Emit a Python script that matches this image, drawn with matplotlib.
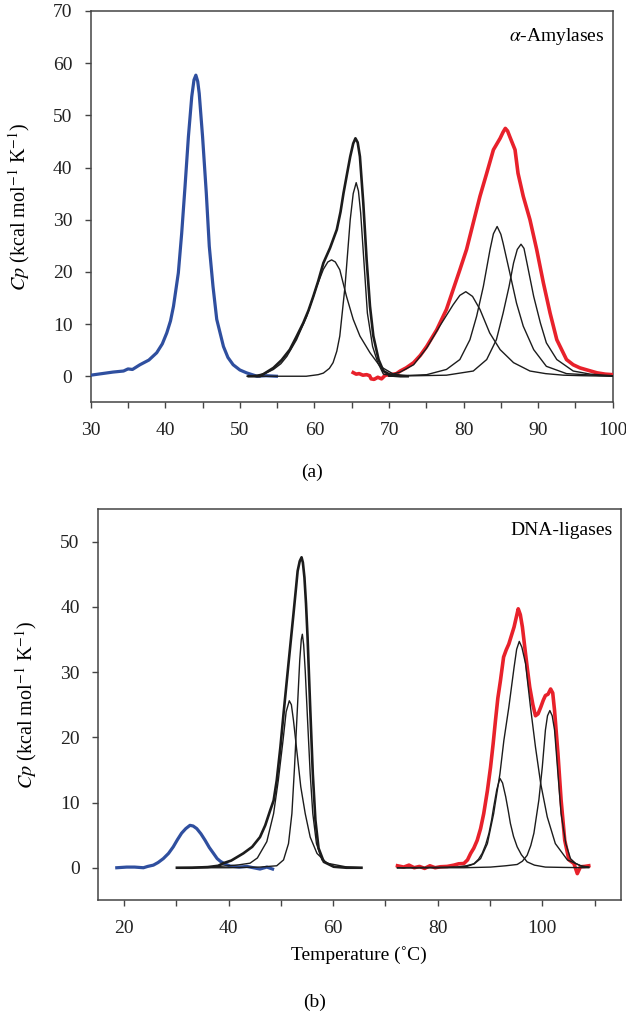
#!/usr/bin/env python3
# -*- coding: utf-8 -*-
"""
DSC traces (Cp vs temperature) for alpha-amylases (a) and DNA-ligases (b),
blue / black / red experimental curves with thin black deconvolution peaks.
Values read off the published figure by eye.
"""

import matplotlib
matplotlib.use('Agg')
import matplotlib.pyplot as plt
from matplotlib.ticker import MultipleLocator

#%% Panel (a) data - alpha-amylases
blue_a_T = [30.0, 31.5, 33.0, 34.4, 35.0, 35.6, 36.6, 37.8, 38.85, 39.6, 40.2, 40.7, 41.1, 41.75,
            42.2, 42.65, 43.1, 43.55, 43.85, 44.1, 44.35, 44.55, 45.0, 45.5, 45.9, 46.4, 46.9,
            47.8, 48.4, 49.1, 50.0, 50.9, 52.3, 53.5, 54.9]
blue_a_Cp = [0.2, 0.5, 0.8, 1.0, 1.4, 1.3, 2.2, 3.1, 4.5, 6.2, 8.3, 10.6, 13.4, 19.8,
             27.4, 36.4, 45.9, 53.6, 56.8, 57.7, 56.5, 54.2, 45.9, 35.1, 24.9, 17.2, 10.9,
             5.7, 3.6, 2.2, 1.2, 0.65, 0.0, 0.1, 0.0]

black_a_T = [51.2, 52.0, 52.7, 53.6, 54.5, 55.6, 56.7, 57.6, 58.5, 59.2, 59.85, 60.5, 61.2,
             62.1, 63.0, 63.5, 63.9, 64.4, 64.8, 65.2, 65.5, 65.8, 66.1, 66.55, 67.0, 67.45,
             67.9, 68.6, 69.25, 70.0, 70.6, 71.5, 72.5]
black_a_Cp = [0.0, 0.0, 0.0, 0.8, 1.6, 3.1, 5.1, 7.6, 10.2, 12.6, 15.3, 18.2, 21.7,
              24.6, 28.1, 31.5, 35.1, 39.0, 42.1, 44.6, 45.6, 44.8, 42.1, 33.2, 22.3, 13.4,
              7.7, 3.2, 1.0, 0.4, 0.1, 0.0, 0.0]

red_a_T = [65.2, 65.6, 66.0, 66.5, 67.0, 67.4, 67.6, 68.0, 68.5, 69.0, 69.5, 70.2, 71.0, 71.5,
           72.3, 73.3, 74.2, 75.05, 76.4, 77.7, 78.6, 79.5, 80.4, 81.3, 82.2, 83.1, 84.0, 84.9,
           85.3, 85.6, 85.9, 86.2, 86.9, 87.3, 88.0, 88.9, 89.8, 90.7, 91.6, 92.5, 93.8, 94.7,
           95.6, 96.8, 97.9, 99.0, 100.0]
red_a_Cp = [0.7, 0.4, 0.5, 0.2, 0.3, 0.1, -0.5, -0.6, -0.2, -0.5, 0.2, 0.3, 0.5, 1.0,
            1.6, 2.6, 4.0, 5.7, 8.9, 12.8, 16.6, 20.4, 24.3, 29.4, 34.5, 38.9, 43.4, 45.6,
            46.8, 47.5, 47.0, 45.9, 43.4, 38.9, 34.5, 30.0, 24.3, 17.9, 12.1, 7.0, 3.2, 2.2,
            1.6, 1.1, 0.65, 0.4, 0.3]

# deconvolved peaks, panel (a)
fit_a = [
    ([51.0, 52.3, 53.5, 54.5, 55.5, 56.3, 57.6, 58.97, 60.3, 61.2, 61.8, 62.3, 62.8, 63.4, 64.3,
      65.2, 66.1, 67.45, 68.8, 70.6, 72.5],
     [0.0, 0.2, 0.6, 1.3, 2.4, 3.8, 7.0, 11.5, 17.2, 20.5, 21.9, 22.3, 21.9, 20.4, 15.3,
      10.9, 7.7, 4.5, 1.9, 0.4, 0.1]),
    ([51.0, 55.0, 58.9, 60.5, 61.2, 62.0, 62.5, 63.0, 63.4, 64.1, 64.8, 65.2, 65.6, 65.9, 66.2,
      66.65, 67.1, 67.8, 68.5, 69.25, 70.5, 72.5],
     [0.0, 0.0, 0.0, 0.3, 0.6, 1.5, 2.6, 4.8, 7.7, 17.2, 30.0, 35.0, 37.1, 35.5, 31.3,
      21.7, 12.1, 5.7, 2.6, 0.4, 0.1, 0.0]),
    ([70.0, 71.5, 73.3, 75.05, 76.8, 78.6, 79.5, 80.3, 81.2, 82.2, 83.5, 84.9, 86.7, 88.9, 91.0,
      93.4, 96.0, 100.0],
     [0.2, 0.8, 2.2, 5.4, 9.6, 13.7, 15.5, 16.2, 15.3, 12.8, 8.3, 5.1, 2.6, 1.0, 0.5,
      0.2, 0.1, 0.0]),
    ([70.0, 75.05, 77.7, 79.5, 80.85, 81.75, 82.65, 83.55, 84.0, 84.5, 85.0, 85.3, 86.2, 87.1,
      88.0, 89.4, 91.1, 93.8, 100.0],
     [0.0, 0.3, 1.3, 3.2, 7.0, 11.5, 17.2, 24.3, 27.3, 28.7, 27.2, 25.5, 19.8, 14.0,
      9.6, 5.1, 1.9, 0.5, 0.0]),
    ([70.0, 77.7, 81.3, 83.1, 84.4, 85.3, 86.1, 86.7, 87.2, 87.7, 88.1, 88.5, 89.4, 90.3, 91.1,
      92.5, 94.7, 97.0, 100.0],
     [0.0, 0.2, 1.0, 3.2, 7.0, 12.1, 17.2, 21.7, 24.3, 25.3, 24.5, 21.7, 15.3, 10.2, 6.4,
      3.2, 1.0, 0.4, 0.1]),
]

#%% Panel (b) data - DNA-ligases
blue_b_T = [18.6, 20.5, 22.0, 23.7, 24.5, 25.6, 26.5, 27.5, 28.5, 29.4, 30.2, 31.0, 31.8, 32.6,
            33.2, 33.9, 34.7, 35.5, 36.3, 37.1, 37.8, 38.4, 39.2, 40.3, 42.0, 43.5, 44.75,
            46.0, 47.3, 48.4]
blue_b_Cp = [0.0, 0.1, 0.1, 0.0, 0.2, 0.4, 0.8, 1.4, 2.2, 3.2, 4.3, 5.3, 6.0, 6.5,
             6.4, 6.0, 5.2, 4.2, 3.1, 2.2, 1.4, 1.0, 0.6, 0.25, 0.1, 0.2, 0.0,
             -0.2, 0.1, -0.2]

black_b_T = [30.1, 33.0, 36.0, 38.0, 39.0, 40.5, 42.8, 44.5, 46.0, 47.0, 47.95, 48.6, 49.2,
             49.9, 50.5, 51.45, 52.4, 52.9, 53.2, 53.6, 53.95, 54.2, 54.5, 54.8, 55.1, 55.6,
             56.1, 56.6, 57.2, 58.2, 60.1, 62.5, 65.4]
black_b_Cp = [0.0, 0.0, 0.1, 0.3, 0.7, 1.1, 2.2, 3.2, 4.7, 6.5, 8.8, 10.3, 13.4,
              18.5, 23.6, 31.3, 38.9, 43.0, 45.5, 47.0, 47.6, 46.8, 44.5, 40.5, 35.3, 24.6,
              14.4, 7.3, 3.0, 0.9, 0.15, 0.0, 0.0]

red_b_T = [72.3, 73.5, 74.5, 75.5, 76.5, 77.5, 78.5, 79.5, 80.5, 81.8, 83.1, 84.0, 85.0, 85.7,
           86.3, 86.9, 87.55, 88.2, 88.8, 89.5, 90.1, 90.6, 91.05, 91.5, 92.0, 92.6, 93.1,
           93.6, 94.1, 94.6, 95.0, 95.4, 95.8, 96.2, 96.8, 97.2, 97.6, 98.2, 98.7, 99.2, 99.7,
           100.2, 100.6, 101.1, 101.6, 102.0, 102.35, 103.0, 103.6, 104.3, 105.1, 106.05,
           106.7, 107.3, 108.1, 108.9]
red_b_Cp = [0.3, 0.1, 0.4, 0.0, 0.2, -0.1, 0.3, 0.0, 0.15, 0.2, 0.4, 0.6, 0.65, 1.2,
            2.2, 3.0, 4.2, 6.0, 8.3, 11.8, 15.4, 19.0, 22.6, 26.0, 28.7, 32.3, 33.4,
            34.3, 35.6, 36.9, 38.3, 39.7, 38.8, 36.9, 32.8, 30.2, 27.7, 25.0, 23.3, 23.6, 24.6,
            25.7, 26.4, 26.6, 27.4, 26.8, 24.1, 17.5, 10.4, 4.2, 1.2, 0.65,
            -0.9, 0.15, 0.2, 0.3]

fit_b = [
    ([30.1, 36.0, 40.0, 42.0, 44.1, 45.5, 46.0, 47.3, 48.6, 49.5, 50.4, 51.0, 51.6, 52.0, 52.4,
      53.1, 53.8, 54.65, 55.6, 56.9, 58.8, 62.7, 65.4],
     [0.0, 0.1, 0.3, 0.45, 0.7, 1.5, 2.2, 4.0, 8.3, 13.4, 19.5, 23.9, 25.6, 25.0, 22.6,
      17.5, 12.4, 8.3, 4.7, 2.2, 0.7, 0.1, 0.0]),
    ([30.1, 40.0, 46.0, 49.2, 50.5, 51.45, 52.1, 52.6, 53.1, 53.6, 53.9, 54.1, 54.35, 54.65,
      55.1, 55.6, 56.1, 56.8, 57.85, 60.1, 65.4],
     [0.0, 0.0, 0.1, 0.3, 1.2, 3.7, 8.3, 15.4, 23.6, 31.8, 35.0, 35.8, 34.2, 30.2,
      22.6, 14.4, 8.3, 3.7, 1.2, 0.15, 0.0]),
    ([72.3, 80.0, 83.7, 85.5, 86.9, 87.8, 88.5, 89.2, 89.8, 90.3, 90.7, 91.3, 91.9, 92.4, 93.0,
      93.5, 93.9, 94.5, 95.2, 96.0, 97.1, 98.5, 100.6, 104.0, 108.9],
     [0.0, 0.05, 0.1, 0.3, 0.6, 1.3, 2.2, 3.6, 5.3, 7.3, 9.3, 12.0, 13.7, 13.0, 10.9,
      8.7, 6.8, 4.8, 3.2, 2.0, 0.9, 0.4, 0.1, 0.05, 0.0]),
    ([72.3, 82.0, 85.6, 87.0, 88.2, 89.5, 90.7, 91.9, 92.65, 93.6, 94.6, 95.1, 95.6, 96.1, 96.8,
      97.75, 98.7, 99.7, 100.95, 102.5, 104.8, 107.7, 108.9],
     [0.0, 0.05, 0.2, 0.6, 1.4, 3.7, 8.3, 14.4, 19.5, 24.6, 30.7, 33.5, 34.7, 33.8, 31.3,
      24.6, 18.5, 12.9, 7.8, 3.7, 1.2, 0.2, 0.1]),
    ([72.3, 85.0, 90.1, 93.0, 95.2, 96.2, 97.1, 97.8, 98.4, 99.35, 100.0, 100.6, 101.0, 101.45,
      101.9, 102.35, 103.0, 103.6, 104.5, 105.4, 106.3, 107.3, 108.9],
     [0.0, 0.0, 0.1, 0.3, 0.5, 1.0, 1.9, 3.4, 5.3, 10.4, 15.4, 21.1, 23.3, 24.1,
      23.3, 21.1, 14.4, 8.3, 3.7, 1.4, 0.7, 0.3, 0.1]),
]

#%% Style
plt.rcParams['font.family'] = ['Liberation Serif', 'DejaVu Serif']
plt.rcParams['mathtext.fontset'] = 'stix'
plt.rcParams['font.size'] = 14

BLUE = '#2f4f9f'
RED = '#e8212b'
BLACK = '#1c1c1c'
SPINE = '#444444'
ylab = r'$Cp$ (kcal mol$^{-1}$ K$^{-1}$)'

fig = plt.figure(figsize=(6.26, 10.17), dpi=100)
ax_a = fig.add_axes([0.1449, 0.6044, 0.8339, 0.3848])
ax_b = fig.add_axes([0.1565, 0.1147, 0.8350, 0.3848])


def style_axes(ax):
    for sp in ax.spines.values():
        sp.set_color(SPINE)
        sp.set_linewidth(1.1)
    ax.tick_params(axis='both', which='both', direction='out', length=4.2,
                   width=1.0, color=SPINE, labelcolor='#222222')
    ax.tick_params(axis='y', pad=9)
    ax.tick_params(axis='x', pad=10)
    ax.tick_params(axis='y', which='both', right=False)
    ax.tick_params(axis='x', which='both', top=False)


#%% Panel (a)
ax_a.plot(blue_a_T, blue_a_Cp, color=BLUE, lw=2.3, zorder=3)
ax_a.plot(red_a_T, red_a_Cp, color=RED, lw=2.6, zorder=3)
ax_a.plot(black_a_T, black_a_Cp, color=BLACK, lw=1.9, zorder=4)
for T, cp in fit_a:
    ax_a.plot(T, cp, color=BLACK, lw=1.0, zorder=5)

ax_a.set_xlim(30, 100)
ax_a.set_ylim(-5, 70)
ax_a.xaxis.set_major_locator(MultipleLocator(10))
ax_a.xaxis.set_minor_locator(MultipleLocator(5))
ax_a.yaxis.set_major_locator(MultipleLocator(10))
style_axes(ax_a)
ax_a.set_ylabel(ylab, fontsize=14.5)
ax_a.yaxis.set_label_coords(-0.112, 0.5)
ax_a.text(0.985, 0.934, r'$\alpha$-Amylases', transform=ax_a.transAxes,
          ha='right', va='center')
fig.text(0.498, 0.536, '(a)', ha='center', va='center')

#%% Panel (b)
ax_b.plot(blue_b_T, blue_b_Cp, color=BLUE, lw=2.3, zorder=3)
ax_b.plot(red_b_T, red_b_Cp, color=RED, lw=2.6, zorder=3)
ax_b.plot(black_b_T, black_b_Cp, color=BLACK, lw=1.9, zorder=4)
for T, cp in fit_b:
    ax_b.plot(T, cp, color=BLACK, lw=1.0, zorder=5)

ax_b.set_xlim(15, 115)
ax_b.set_ylim(-5, 55)
ax_b.set_xticks([20, 40, 60, 80, 100])
ax_b.xaxis.set_minor_locator(MultipleLocator(10))
ax_b.yaxis.set_major_locator(MultipleLocator(10))
style_axes(ax_b)
ax_b.set_ylabel(ylab, fontsize=14.5)
ax_b.yaxis.set_label_coords(-0.112, 0.5)
ax_b.set_xlabel('Temperature (˚C)')
ax_b.xaxis.set_label_coords(0.5, -0.117)
ax_b.text(0.985, 0.946, 'DNA-ligases', transform=ax_b.transAxes,
          ha='right', va='center')
fig.text(0.503, 0.0147, '(b)', ha='center', va='center')

plt.savefig('out.png', dpi=100)
